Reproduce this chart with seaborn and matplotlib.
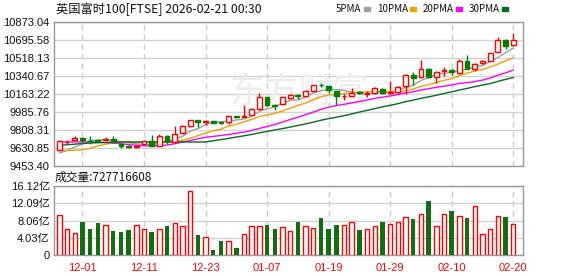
import numpy as np
import pandas as pd
import matplotlib
matplotlib.use("Agg")
import matplotlib.pyplot as plt
import seaborn as sns
from matplotlib.patches import Rectangle

# ---------------- data ----------------
title = "英国富时100[FTSE] 2026-02-21 00:30"
legend_names = ["5PMA", "10PMA", "20PMA", "30PMA"]
legend_colors = ["#a0a0a0", "#f5a000", "#ff00ff", "#006e1e"]

opens = [9614, 9686, 9706, 9732, 9703, 9713, 9706, 9716, 9670, 9654,
         9640, 9667, 9703, 9654, 9752, 9690, 9778, 9844, 9903, 9884,
         9897, 9884, 9887, 9940, 9936, 9959, 10015, 10127, 10051, 10058,
         10124, 10150, 10143, 10193, 10251, 10235, 10189, 10137, 10143, 10179,
         10160, 10166, 10212, 10166, 10179, 10239, 10344, 10324, 10403, 10324,
         10387, 10396, 10363, 10482, 10406, 10462, 10488, 10571, 10692, 10640]
highs = [9706, 9706, 9746, 9739, 9746, 9716, 9739, 9746, 9673, 9663,
         9654, 9713, 9762, 9769, 9762, 9851, 9857, 9910, 9907, 9910,
         9900, 9887, 9949, 9949, 10051, 10028, 10173, 10130, 10061, 10140,
         10160, 10160, 10199, 10248, 10268, 10242, 10189, 10160, 10222, 10186,
         10193, 10232, 10219, 10285, 10235, 10357, 10373, 10495, 10413, 10383,
         10423, 10406, 10502, 10544, 10466, 10492, 10567, 10722, 10699, 10758]
lows = [9601, 9667, 9706, 9693, 9673, 9700, 9706, 9683, 9630, 9634,
        9627, 9657, 9647, 9647, 9667, 9683, 9772, 9838, 9838, 9854,
        9877, 9867, 9870, 9923, 9933, 9953, 10015, 10041, 10002, 10048,
        10107, 10110, 10137, 10189, 10225, 10173, 10051, 10100, 10140, 10160,
        10133, 10156, 10160, 10160, 10156, 10160, 10248, 10314, 10314, 10265,
        10337, 10347, 10357, 10403, 10390, 10459, 10482, 10567, 10607, 10636]
closes = [9696, 9693, 9732, 9713, 9696, 9703, 9723, 9693, 9650, 9640,
          9650, 9703, 9654, 9752, 9703, 9772, 9844, 9903, 9884, 9897,
          9880, 9874, 9940, 9933, 9949, 10009, 10127, 10051, 10045, 10127,
          10150, 10143, 10189, 10245, 10245, 10202, 10140, 10143, 10170, 10170,
          10166, 10216, 10170, 10176, 10225, 10344, 10321, 10403, 10327, 10373,
          10396, 10373, 10482, 10406, 10456, 10485, 10561, 10692, 10636, 10689]

ma5 = [9580, 9607, 9640, 9670, 9706, 9707, 9713, 9706, 9693, 9682,
       9671, 9667, 9659, 9680, 9692, 9717, 9745, 9795, 9821, 9860,
       9882, 9888, 9895, 9905, 9915, 9941, 9992, 10014, 10036, 10072,
       10100, 10103, 10131, 10171, 10194, 10205, 10204, 10195, 10180, 10165,
       10158, 10173, 10178, 10180, 10191, 10226, 10247, 10294, 10324, 10354,
       10364, 10374, 10390, 10406, 10423, 10440, 10478, 10520, 10566, 10613]
ma10 = [9607, 9607, 9608, 9612, 9627, 9650, 9668, 9680, 9688, 9694,
        9689, 9690, 9683, 9686, 9687, 9694, 9706, 9727, 9751, 9776,
        9799, 9816, 9845, 9863, 9888, 9911, 9940, 9954, 9971, 9994,
        10021, 10047, 10072, 10104, 10133, 10152, 10154, 10163, 10175, 10180,
        10181, 10189, 10187, 10180, 10178, 10192, 10210, 10236, 10252, 10272,
        10295, 10311, 10342, 10365, 10388, 10402, 10426, 10455, 10486, 10518]
ma20 = [9690, 9690, 9690, 9690, 9689, 9685, 9682, 9680, 9672, 9664,
        9656, 9652, 9650, 9652, 9660, 9672, 9688, 9704, 9720, 9735,
        9744, 9753, 9764, 9775, 9787, 9803, 9823, 9841, 9861, 9885,
        9910, 9932, 9959, 9983, 10010, 10032, 10047, 10059, 10073, 10087,
        10101, 10118, 10130, 10142, 10155, 10172, 10182, 10200, 10214, 10226,
        10238, 10250, 10264, 10272, 10283, 10297, 10318, 10346, 10369, 10395]
ma30 = [9657, 9662, 9668, 9674, 9679, 9683, 9686, 9688, 9689, 9689,
        9688, 9688, 9689, 9689, 9690, 9690, 9690, 9689, 9689, 9690,
        9701, 9713, 9725, 9738, 9750, 9764, 9779, 9793, 9807, 9821,
        9836, 9851, 9867, 9884, 9903, 9919, 9933, 9948, 9965, 9983,
        10000, 10017, 10035, 10049, 10066, 10085, 10101, 10118, 10133, 10148,
        10166, 10182, 10200, 10216, 10233, 10249, 10263, 10285, 10304, 10323]

volumes = [9.3, 6.05, 5.1, 7.75, 6.1, 7.5, 7.0, 5.65, 5.4, 5.9,
           7.0, 6.05, 5.4, 6.05, 6.8, 7.45, 6.75, 14.9, 4.7, 4.2,
           1.25, 3.3, 3.3, 1.7, 4.9, 6.75, 6.75, 7.05, 6.1, 6.5,
           5.6, 7.75, 6.75, 6.3, 8.7, 6.1, 7.05, 7.05, 7.65, 5.9,
           6.05, 6.75, 7.75, 7.3, 7.65, 8.85, 8.45, 9.6, 12.6, 6.75,
           9.6, 10.3, 9.05, 8.7, 11.45, 4.9, 6.05, 9.05, 8.9, 7.28]
last_volume = "727716608"

tick_pos = [3, 11, 19, 27, 35, 43, 51, 59]
tick_labels = ["12-01", "12-11", "12-23", "01-07", "01-19", "01-29", "02-10", "02-20"]
price_ticks = [9453.40, 9630.85, 9808.31, 9985.76, 10163.22, 10340.67, 10518.13, 10695.58, 10873.04]
price_tick_labels = ["9453.40", "9630.85", "9808.31", "9985.76", "10163.22",
                     "10340.67", "10518.13", "10695.58", "10873.04"]
vol_ticks = [0, 4.03, 8.06, 12.09, 16.12]
vol_tick_labels = ["0", "4.03亿", "8.06亿", "12.09亿", "16.12亿"]

# ---------------- style ----------------
sns.set_theme(style="white")
plt.rcParams["font.family"] = ["Liberation Sans", "Noto Sans CJK SC"]

RED = "#ff0000"
GREEN = "#008000"
FRAME = "#999999"
GRID = "#d2d2d2"

W, H = 578, 276
fig = plt.figure(figsize=(W / 100, H / 100), dpi=100)
fig.patch.set_facecolor("white")

L, R = 54, 522.5
ax = fig.add_axes([L / W, 1 - 166 / H, (R - L) / W, (166 - 21.5) / H])
axv = fig.add_axes([L / W, 1 - 255 / H, (R - L) / W, (255 - 186) / H])

x = np.arange(len(closes))
o = np.array(opens, float)
c = np.array(closes, float)
up = c >= o

# ---------------- MA lines (seaborn) ----------------
ma_df = pd.DataFrame({"x": x, "5PMA": ma5, "10PMA": ma10, "20PMA": ma20, "30PMA": ma30})
ma_long = ma_df.melt(id_vars="x", var_name="ma", value_name="v")
sns.lineplot(data=ma_long, x="x", y="v", hue="ma", hue_order=legend_names,
             palette=dict(zip(legend_names, legend_colors)), linewidth=1.0,
             legend=False, ax=ax, zorder=2)

# ---------------- candles ----------------
cols = np.where(up, RED, GREEN)
ax.vlines(x, lows, highs, colors=cols, linewidth=1.0, zorder=3)
bottom = np.minimum(o, c)
height = np.maximum(np.abs(c - o), 1.0)
ax.bar(x, height, bottom=bottom, width=0.62,
       color=np.where(up, "white", GREEN), edgecolor=cols, linewidth=1.0, zorder=4)

# ---------------- volume (seaborn) ----------------
vdf = pd.DataFrame({"x": x, "vol": volumes, "dir": np.where(up, "up", "down")})
sns.barplot(data=vdf, x="x", y="vol", hue="dir", palette={"up": "white", "down": GREEN},
            native_scale=True, width=0.58, dodge=False, errorbar=None,
            legend=False, ax=axv, zorder=3)
for p in axv.patches:
    fc = p.get_facecolor()
    if fc[0] > 0.9 and fc[1] > 0.9:
        p.set_edgecolor(RED)
        p.set_linewidth(1.0)
    else:
        p.set_edgecolor(GREEN)
        p.set_linewidth(0.0)

# ---------------- axes cosmetics ----------------
for a in (ax, axv):
    a.set_xlim(-0.7, 60.2)
    a.set_facecolor("white")
    a.set_axisbelow(True)
    for s in a.spines.values():
        s.set_color(FRAME)
        s.set_linewidth(1.0)
    a.set_xticks(tick_pos)
    a.xaxis.grid(True, color="#cccccc", linestyle=(0, (4, 3)), linewidth=1.0)
    a.yaxis.grid(True, color=GRID, linestyle="-", linewidth=1.0)
    a.set_xlabel("")
    a.set_ylabel("")

ax.set_ylim(price_ticks[0], price_ticks[-1])
ax.set_yticks(price_ticks)
ax.set_yticklabels(price_tick_labels)
ax.tick_params(axis="y", length=2, width=1, color=FRAME, labelsize=8, pad=1, labelcolor="#111111")
ax.tick_params(axis="x", length=0, labelbottom=False)

axv.set_ylim(vol_ticks[0], vol_ticks[-1])
axv.set_yticks(vol_ticks)
axv.set_yticklabels(vol_tick_labels)
axv.tick_params(axis="y", length=2, width=1, color=FRAME, labelsize=8, pad=1, labelcolor="#111111")
axv.set_xticklabels(tick_labels)
axv.tick_params(axis="x", length=0, labelsize=8, pad=6, labelcolor=RED)

# watermark
ax.text(0.5 + 10 / W, 1 - 92 / H, "东方财富", transform=fig.transFigure, fontsize=25,
        color="#ececec", ha="center", va="center", family=["Noto Sans CJK SC"], zorder=1)

# ---------------- header texts ----------------
fig.text(56 / W, 1 - 9 / H, title, fontsize=8.8, ha="left", va="center",
         family=["Noto Sans CJK SC", "DejaVu Sans"], color="#111111")
leg_x = [336, 377, 423, 469]
sq_x = [364, 410, 456, 502]
for name, col, lx, sx in zip(legend_names, legend_colors, leg_x, sq_x):
    fig.text(lx / W, 1 - 9 / H, name, fontsize=7, ha="left", va="center",
             family=["Noto Sans CJK SC", "DejaVu Sans"], color="#111111")
    fig.patches.append(Rectangle((sx / W, 1 - 10.5 / H), 6 / W, 3 / H, color=col,
                                 transform=fig.transFigure, figure=fig))

fig.text(55 / W, 1 - 177 / H, "成交量:" + last_volume, fontsize=8.5, ha="left", va="center",
         family=["Noto Sans CJK SC", "DejaVu Sans"], color="#111111")

fig.savefig("out.png", dpi=100)
